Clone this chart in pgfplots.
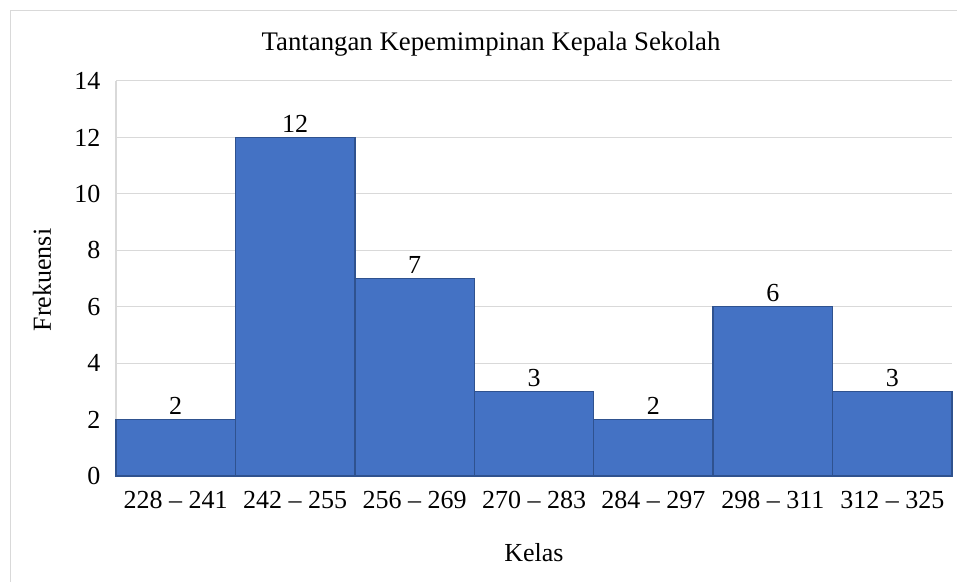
\documentclass[border=0pt]{standalone}
\usepackage{pgfplots}
\pgfplotsset{compat=1.18}
\usepackage{fontspec}
\setmainfont{Liberation Serif}
\definecolor{barfill}{HTML}{4472C4}
\definecolor{bardraw}{HTML}{2F528F}
\definecolor{gridc}{HTML}{D9D9D9}
\begin{document}
\begin{tikzpicture}[x=1pt,y=1pt]
\useasboundingbox (0,0) rectangle (957,581);
\draw[gridc, line width=1pt] (10,-20) -- (10,570) -- (990,570);
\begin{axis}[
  at={(116pt,105pt)}, anchor=south west,
  scale only axis, width=836pt, height=395pt,
  ymin=0, ymax=14, ytick={0,2,...,14},
  yticklabel={\pgfmathprintnumber{\tick}},
  xmin=-0.5, xmax=6.5, xtick=data,
  xticklabels={228 -- 241, 242 -- 255, 256 -- 269, 270 -- 283, 284 -- 297, 298 -- 311, 312 -- 325},
  axis x line*=bottom, axis y line*=left,
  axis line style={gridc, line width=1.2pt, -},
  major tick length=0pt,
  ymajorgrids, grid style={gridc, line width=1pt},
  ticklabel style={font=\fontsize{26}{30}\selectfont},
  /pgf/number format/assume math mode=true,
  yticklabel style={xshift=-12pt},
  xticklabel style={yshift=-12pt},
  ybar, bar width=836pt/7, bar shift=0pt,
  nodes near coords={\pgfmathprintnumber{\pgfplotspointmeta}},
  nodes near coords style={font=\fontsize{26}{30}\selectfont, anchor=south, inner sep=0pt, yshift=4pt},
  clip=false,
]
\addplot[fill=barfill, draw=bardraw, line width=1.5pt] coordinates {
(0,2) (1,12) (2,7) (3,3) (4,2) (5,6) (6,3)
};
\end{axis}
\node[font=\fontsize{26.8}{30}\selectfont] at (491,537) {Tantangan Kepemimpinan Kepala Sekolah};
\node[font=\fontsize{26}{30}\selectfont, rotate=90] at (42,301) {Frekuensi};
\node[font=\fontsize{26}{30}\selectfont] at (534,28) {Kelas};
\end{tikzpicture}
\end{document}
